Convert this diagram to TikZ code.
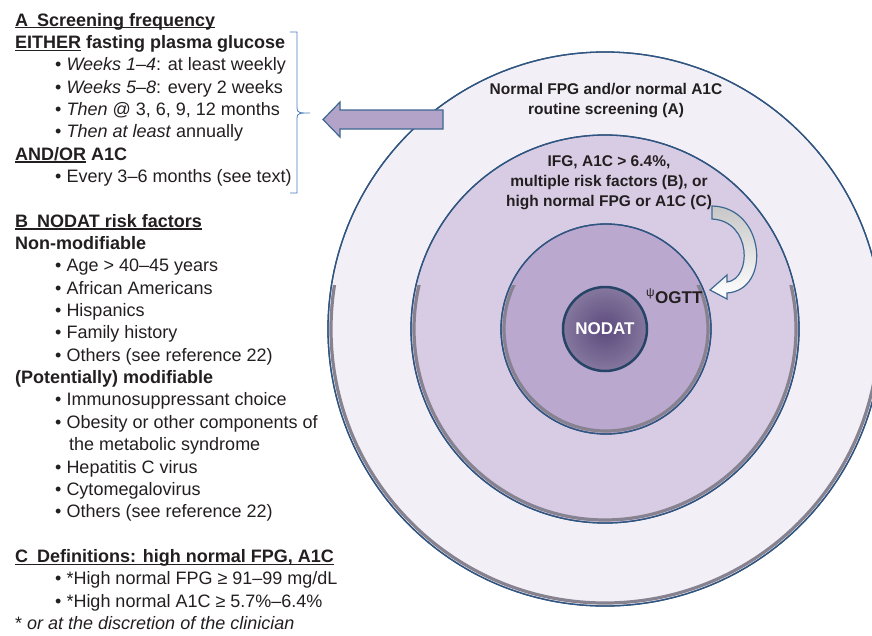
\documentclass[tikz,border=0pt]{standalone}
\usepackage{fontspec}
\setmainfont{Liberation Sans}
\definecolor{ink}{HTML}{231F20}
\definecolor{rimblue}{HTML}{2F5580}
\definecolor{rimgrey}{HTML}{87828F}
\definecolor{ringA}{HTML}{F3EFF6}
\definecolor{ringB}{HTML}{D8CCE4}
\definecolor{ringC}{HTML}{BBA8CF}
\definecolor{core}{HTML}{5C4A7D}
\definecolor{bracecol}{HTML}{4A7EBB}
\definecolor{arrowfill}{HTML}{B3A3C9}
\definecolor{arrowline}{HTML}{3D6892}
\newsavebox\ulbox
\newcommand\undl[1]{\sbox\ulbox{#1}\rlap{\rule[-2.4pt]{\wd\ulbox}{1.1pt}}\usebox\ulbox}
\begin{document}
\begin{tikzpicture}[x=1pt, y=-1pt,
    txt/.style={anchor=base west, inner sep=0pt, text=ink, font=\fontsize{18}{22}\selectfont},
    head/.style={txt, font=\fontsize{18}{22}\selectfont\bfseries},
    bul/.style={txt, execute at begin node={\textbullet\ }},
    ring/.style={circle, draw=rimblue, line width=1.3, inner sep=0pt, outer sep=0pt},
    rim/.style={draw=rimgrey, line width=3.2},
    lbl/.style={align=center, inner sep=0pt, text=ink, font=\fontsize{15.5}{20}\selectfont\bfseries}]
  \clip (0,0) rectangle (872,635);

  % the rings
  \node[ring, fill=ringA, minimum size=554] (outer) at (605,329) {};
  \node[ring, fill=ringB, minimum size=388] (middle) at (605,329) {};
  \node[ring, fill=ringC, minimum size=210] (inner) at (606,329) {};
  \begin{scope}
    \clip (0,285) rectangle (872,635);
    \draw[rim] (outer.center) circle[radius=274pt];
    \draw[rim] (middle.center) circle[radius=191pt];
    \draw[rim] (inner.center) circle[radius=102pt];
  \end{scope}
  \draw[rimblue, line width=1.3] (outer.center) circle[radius=277pt]
    (middle.center) circle[radius=194pt] (inner.center) circle[radius=105pt];
  \node[circle, draw=rimblue!80!black, line width=2.5, inner color=core, outer color=core!75!white,
        minimum size=84, inner sep=0pt, text=white, font=\fontsize{17}{20}\selectfont\bfseries] (nodat) at (605,329) {NODAT};

  \node[lbl] (lblA) at (606,101) {Normal FPG and/or normal A1C\\routine screening (A)};
  \node[lbl] (lblB) at (609,183) {IFG, A1C > 6.4\%,\\multiple risk factors (B), or\\high normal FPG or A1C (C)};
  \node[txt, font=\fontsize{17}{20}\selectfont] (ogtt) at (646,303) {\textsuperscript{ψ}\textbf{OGTT}};

  % arrows
  \draw[draw=arrowline, line width=1.2, fill=arrowfill, line join=miter]
    (443,110) -- (340,110) -- (340,102) -- (323,119.5) -- (340,137) -- (340,129) -- (443,129) -- cycle;
  \draw[draw=arrowline, line width=1.2, top color=black!22, bottom color=white]
    (712,206) .. controls (765,207) and (772,290) .. (727,293) -- (727,299) -- (710,290)
    -- (727,275) -- (727,282) .. controls (752,279) and (752,221) .. (712,219) -- cycle;
  \draw[bracecol, line width=0.8]
    (290,32) -- (297,32) -- (297,108) .. controls (297,113) and (300,113) .. (310,113)
    (290,193) -- (297,193) -- (297,118) .. controls (297,113) and (300,113) .. (310,113);

  % A
  \node[head] (sA) at (15,26) {\undl{A\hspace{0.5em}Screening frequency}};
  \node[head] (either) at (15,48.35) {\undl{EITHER} fasting plasma glucose};
  \node[bul] (w14) at (55,70.7) {\textit{Weeks 1--4}: at least weekly};
  \node[bul] (w58) at (55,93.05) {\textit{Weeks 5--8}: every 2 weeks};
  \node[bul] (then) at (55,115.4) {\textit{Then} @ 3, 6, 9, 12 months};
  \node[bul] (atleast) at (55,137.75) {\textit{Then at least} annually};
  \node[head] (andor) at (15,160.1) {\undl{AND/OR} A1C};
  \node[bul] (every) at (55,182.45) {Every 3--6 months (see text)};
  % B
  \node[head] (sB) at (15,227.15) {\undl{B\hspace{0.5em}NODAT risk factors}};
  \node[head] (nonmod) at (15,249.5) {Non-modifiable};
  \node[bul] (age) at (55,271.85) {Age > 40--45 years};
  \node[bul] (afram) at (55,294.2) {African Americans};
  \node[bul] (hisp) at (55,316.55) {Hispanics};
  \node[bul] (famhist) at (55,338.9) {Family history};
  \node[bul] (others1) at (55,361.25) {Others (see reference 22)};
  \node[head] (potmod) at (15,383.6) {(Potentially) modifiable};
  \node[bul] (immuno) at (55,405.95) {Immunosuppressant choice};
  \node[bul] (obesity) at (55,428.3) {Obesity or other components of};
  \node[txt] (metab) at (69,450.65) {the metabolic syndrome};
  \node[bul] (hepc) at (55,473) {Hepatitis C virus};
  \node[bul] (cmv) at (55,495.35) {Cytomegalovirus};
  \node[bul] (others2) at (55,517.7) {Others (see reference 22)};
  % C
  \node[head] (sC) at (15,562.4) {\undl{C\hspace{0.5em}Definitions: high normal FPG, A1C}};
  \node[bul] (hfpg) at (55,584.75) {*High normal FPG ≥ 91--99 mg/dL};
  \node[bul] (ha1c) at (55,607.1) {*High normal A1C ≥ 5.7\%--6.4\%};
  \node[txt] (discr) at (15,629.45) {* \textit{or at the discretion of the clinician}};
\end{tikzpicture}
\end{document}
